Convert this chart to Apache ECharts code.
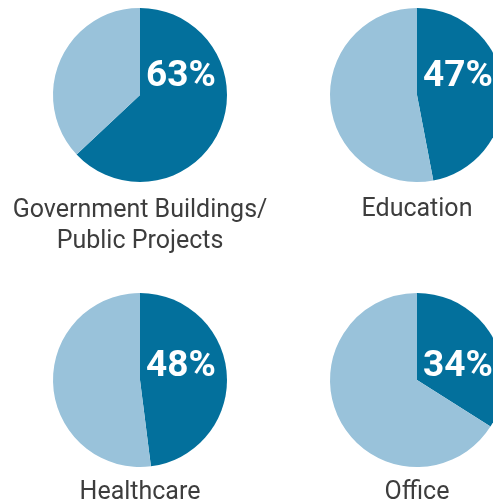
<!DOCTYPE html>
<html>
<head>
<meta charset="utf-8">
<script src="https://cdn.jsdelivr.net/npm/echarts@6/dist/echarts.min.js"></script>
<style>
  html, body { margin: 0; padding: 0; background: #fff; }
  #chart { width: 493px; height: 503px; }
</style>
</head>
<body>
<div id="chart"></div>
<script>
// 各行业占比
const sectors = ['Government Buildings/\nPublic Projects', 'Education', 'Healthcare', 'Office']
const shares = [63, 47, 48, 34]

const darkBlue = '#03709c'
const lightBlue = '#99c2da'
const textGray = '#3d3d3d'

// 2x2 布局
const centers = [[140, 95], [417, 95], [140, 380], [417, 380]]
const pctY = [77, 77, 367, 367]
const nameY = [226, 210, 493, 493]

const myChart = echarts.init(document.getElementById('chart'))

const series = shares.map((v, i) => ({
  type: 'pie',
  center: centers[i],
  radius: 87,
  startAngle: 90,
  clockwise: true,
  silent: true,
  label: { show: false },
  labelLine: { show: false },
  itemStyle: { borderWidth: 0 },
  data: [
    { value: v, itemStyle: { color: darkBlue } },
    { value: 100 - v, itemStyle: { color: lightBlue } }
  ]
}))

const graphic = []
shares.forEach((v, i) => {
  graphic.push({
    type: 'text',
    x: centers[i][0] + 6,
    y: pctY[i],
    z: 10,
    style: {
      text: v + '%',
      fill: '#fff',
      font: 'bold 37px Roboto',
      align: 'left',
      verticalAlign: 'middle'
    }
  })
  graphic.push({
    type: 'text',
    x: centers[i][0],
    y: nameY[i],
    z: 10,
    style: {
      text: sectors[i],
      fill: textGray,
      font: '25px Roboto',
      align: 'center',
      verticalAlign: 'middle',
      lineHeight: 31
    }
  })
})

myChart.setOption({
  animation: false,
  series: series,
  graphic: graphic
})
</script>
</body>
</html>
